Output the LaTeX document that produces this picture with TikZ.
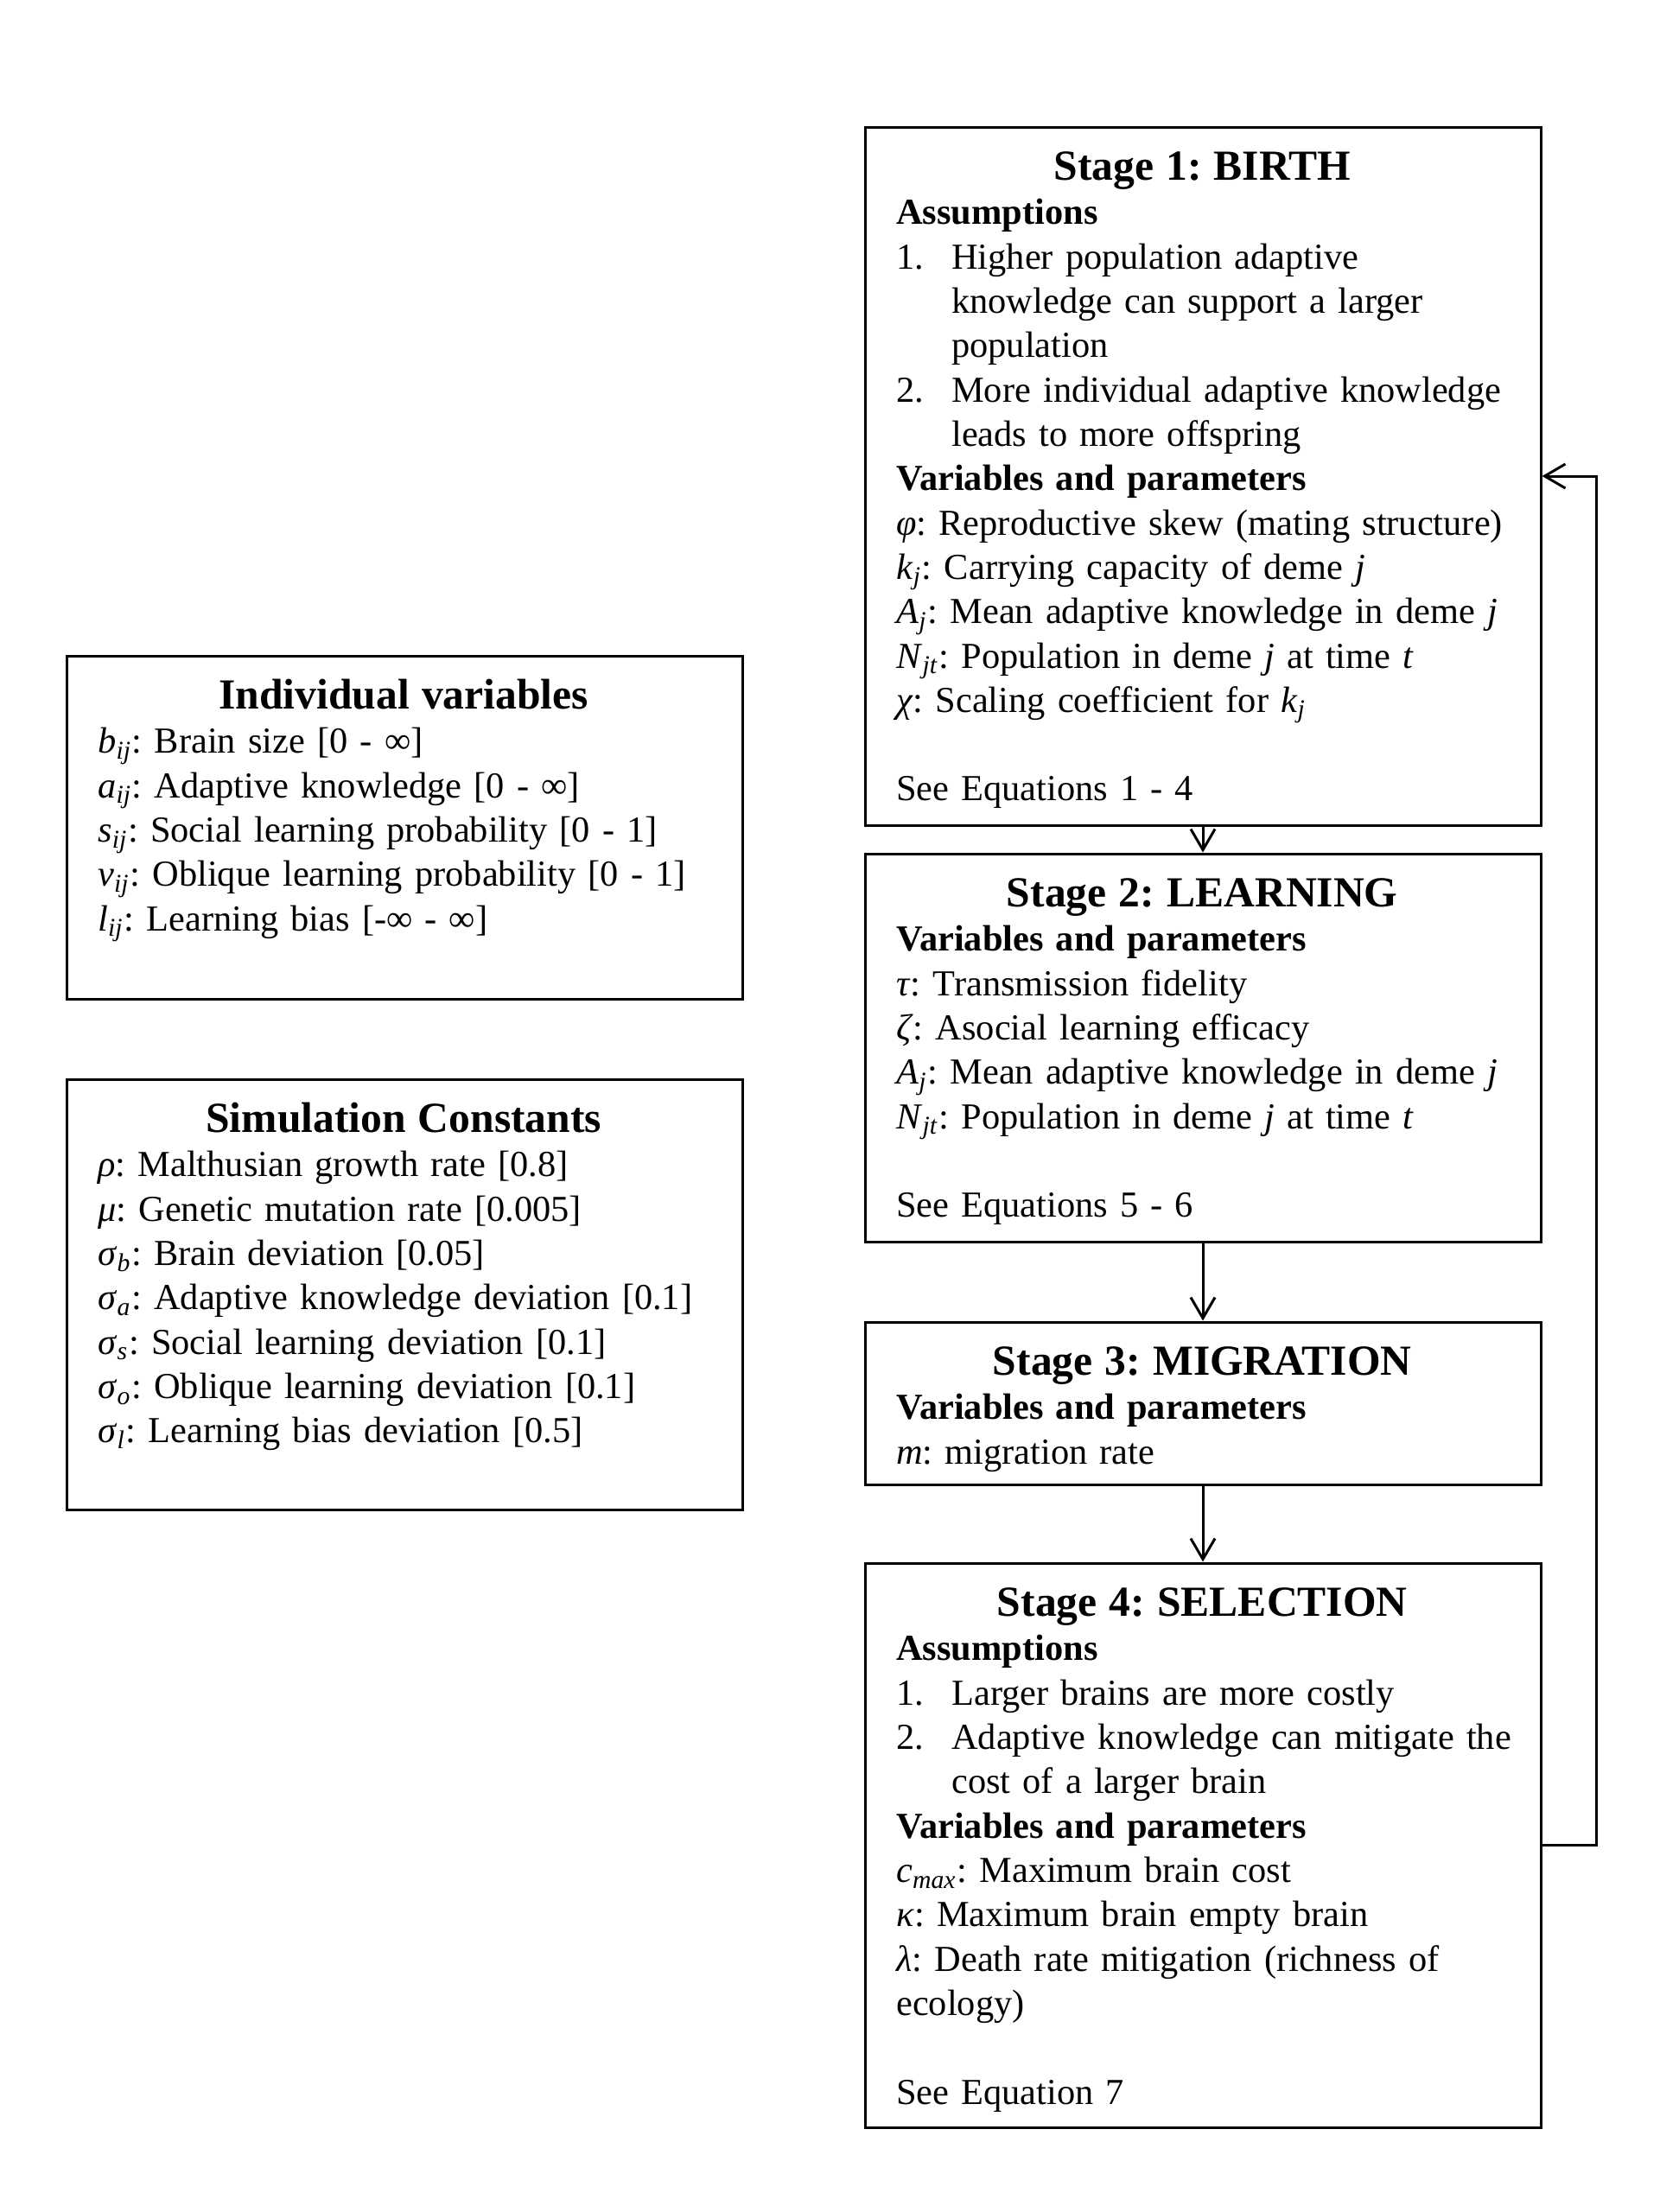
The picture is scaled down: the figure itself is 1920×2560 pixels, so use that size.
\documentclass[tikz,border=0pt]{standalone}
\usepackage{fontspec}
\setmainfont{Liberation Serif}
\usetikzlibrary{arrows.meta}

\newcommand{\varsub}[2]{\textit{#1}\textsubscript{\textit{#2}}}
\newcommand{\titulo}[1]{\makebox[177pt][c]{\fontsize{12.4pt}{12.83pt}\selectfont\bfseries #1}}
\newcommand{\numitem}[1]{\makebox[16pt][l]{#1}}
\newcommand{\sangria}{\hspace*{16pt}}

\begin{document}
\frenchspacing
\begin{tikzpicture}[x=0.25pt, y=-0.25pt,
    caja/.style={draw, line width=0.75pt, minimum width=195.5pt, inner sep=0pt},
    texto/.style={anchor=base west, inner sep=0pt, text width=260pt, align=left,
      font=\fontsize{10.6pt}{12.83pt}\selectfont},
    flecha/.style={-{Straight Barb[length=6pt,width=7pt]}, line width=0.75pt}]

    % Marco de la figura
    \useasboundingbox (0,0) rectangle (1920,2560);

    % Cajas de las etapas
    \node[caja, minimum height=202pt] (birth) at (1392,551) {};
    \node[caja, minimum height=112.25pt] (learning) at (1392,1212.5) {};
    \node[caja, minimum height=47pt] (migration) at (1392,1624) {};
    \node[caja, minimum height=163.25pt] (selection) at (1392,2135.5) {};

    % Cajas de variables y constantes
    \node[caja, minimum height=99.25pt] (indiv) at (468,957.5) {};
    \node[caja, minimum height=124.5pt] (consts) at (468,1498) {};

    % Texto de cada caja
    \node[texto] (birthtxt) at ([shift={(37,63)}]birth.north west) {%
      \titulo{Stage 1: BIRTH}\\
      \textbf{Assumptions}\\
      \numitem{1.}Higher population adaptive\\
      \sangria knowledge can support a larger\\
      \sangria population\\
      \numitem{2.}More individual adaptive knowledge\\
      \sangria leads to more offspring\\
      \textbf{Variables and parameters}\\
      \textit{φ}: Reproductive skew (mating structure)\\
      \varsub{k}{j}: Carrying capacity of deme \textit{j}\\
      \varsub{A}{j}: Mean adaptive knowledge in deme \textit{j}\\
      \varsub{N}{jt}: Population in deme \textit{j} at time \textit{t}\\
      \textit{χ}: Scaling coefficient for \varsub{k}{j}\\[12.83pt]
      See Equations 1 - 4};
    \node[texto] (learningtxt) at ([shift={(37,63)}]learning.north west) {%
      \titulo{Stage 2: LEARNING}\\
      \textbf{Variables and parameters}\\
      \textit{τ}: Transmission fidelity\\
      \textit{ζ}: Asocial learning efficacy\\
      \varsub{A}{j}: Mean adaptive knowledge in deme \textit{j}\\
      \varsub{N}{jt}: Population in deme \textit{j} at time \textit{t}\\[12.83pt]
      See Equations 5 - 6};
    \node[texto] (migrationtxt) at ([shift={(37,63)}]migration.north west) {%
      \titulo{Stage 3: MIGRATION}\\
      \textbf{Variables and parameters}\\
      \textit{m}: migration rate};
    \node[texto] (selectiontxt) at ([shift={(37,63)}]selection.north west) {%
      \titulo{Stage 4: SELECTION}\\
      \textbf{Assumptions}\\
      \numitem{1.}Larger brains are more costly\\
      \numitem{2.}Adaptive knowledge can mitigate the\\
      \sangria cost of a larger brain\\
      \textbf{Variables and parameters}\\
      \varsub{c}{max}: Maximum brain cost\\
      \textit{κ}: Maximum brain empty brain\\
      \textit{λ}: Death rate mitigation (richness of\\
      ecology)\\[12.83pt]
      See Equation 7};
    \node[texto] (indivtxt) at ([shift={(37,63)}]indiv.north west) {%
      \titulo{Individual variables}\\
      \varsub{b}{ij}: Brain size [0 - ∞]\\
      \varsub{a}{ij}: Adaptive knowledge [0 - ∞]\\
      \varsub{s}{ij}: Social learning probability [0 - 1]\\
      \varsub{v}{ij}: Oblique learning probability [0 - 1]\\
      \varsub{l}{ij}: Learning bias [-∞ - ∞]};
    \node[texto] (conststxt) at ([shift={(37,63)}]consts.north west) {%
      \titulo{Simulation Constants}\\
      \textit{ρ}: Malthusian growth rate [0.8]\\
      \textit{μ}: Genetic mutation rate [0.005]\\
      \varsub{σ}{b}: Brain deviation [0.05]\\
      \varsub{σ}{a}: Adaptive knowledge deviation [0.1]\\
      \varsub{σ}{s}: Social learning deviation [0.1]\\
      \varsub{σ}{o}: Oblique learning deviation [0.1]\\
      \varsub{σ}{l}: Learning bias deviation [0.5]};

    % Flechas entre etapas
    \foreach \a/\b in {birth/learning, learning/migration, migration/selection}
        \draw[flecha] (\a) -- (\b);

    % Flecha de vuelta a la primera etapa
    \coordinate (vuelta) at (1847,2135.5);
    \draw[flecha] (selection) -- (vuelta) |- (birth);
\end{tikzpicture}
\end{document}
